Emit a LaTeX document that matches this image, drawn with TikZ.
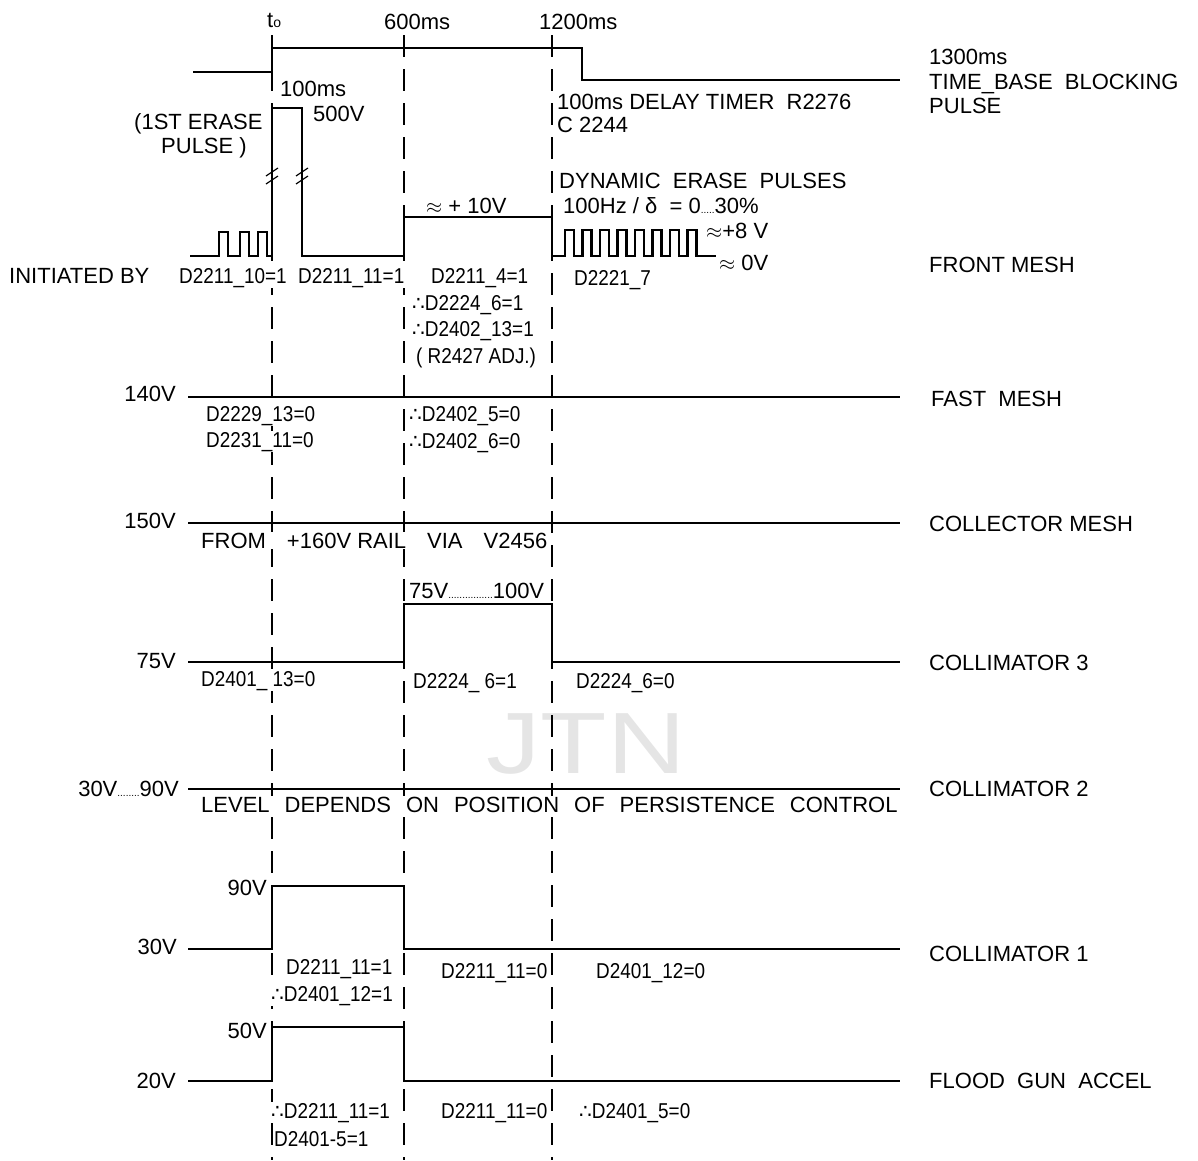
\documentclass[tikz,border=0pt]{standalone}
\usepackage{fontspec}
\setmainfont{Liberation Sans}
\newfontfamily\narrowfont[FakeStretch=0.88]{Liberation Sans}
\newfontfamily\wmfont[FakeStretch=1.25]{Liberation Sans}
\newfontfamily\symbfont{DejaVu Sans}
\usepackage{tikz}
\usetikzlibrary{positioning}

\newcommand{\tfore}{{\symbfont\fontsize{20}{20}\selectfont ∴}}
\newcommand{\smalldots}[1]{{\fontsize{10}{10}\selectfont #1}}
\newcommand{\wsp}{\hspace*{15pt}}

\begin{document}
\begin{tikzpicture}[x=1pt, y=-1pt,
      sig/.style={line width=2.2pt},
      tline/.style={line width=1.1pt, dash pattern=on 22pt off 12pt},
      brk/.style={line width=1.2pt},
      txt/.style={font=\fontsize{22}{24}\selectfont, inner sep=1pt, anchor=base west, fill=white},
      dlbl/.style={txt, font=\narrowfont\fontsize{21.5}{24}\selectfont},
      volt/.style={txt, anchor=base east},
      wmark/.style={font=\wmfont\fontsize{87}{87}\selectfont, text=black!10, inner sep=0pt, anchor=base west}]

    \useasboundingbox (0,0) rectangle (1198,1160);
    \def\tz{272}
    \def\tsix{404}
    \def\ttw{552}
    \def\xl{188}
    \def\xr{900}

    \node[wmark] (jtn) at (486,773) {JTN};

    % ============================================
    % time marks
    % ============================================
    \node[txt] (tzero) at (266,27) {t{\fontsize{14}{14}\selectfont o}};
    \node[txt] (tsixh) at (383,29) {600ms};
    \node[txt] (ttwelve) at (538,29) {1200ms};

    \foreach \x/\n in {\tz/a, \tsix/b, \ttw/c} {
        \coordinate (top\n) at (\x,35);
        \coordinate (bot\n) at (\x,1160);
        \draw[tline] (top\n) -- (bot\n);
    }

    % ============================================
    % time base blocking pulse
    % ============================================
    \draw[sig] (193,72) -- (\tz,72) -- (\tz,48) -- (582,48) -- (582,80) -- (\xr,80);
    \node[txt] (tbms) at (928,64) {1300ms};
    \node[txt] (tbname) at (928,89) {TIME\_BASE\ \ BLOCKING};
    \node[txt] (tbpulse) at (928,113) {PULSE};
    \node[txt] (hundred) at (279,96) {100ms};
    \node[txt] (delay) at (556,109) {100ms DELAY TIMER\ \ R2276};
    \node[txt] (cap) at (556,132) {C 2244};

    % ============================================
    % front mesh
    % ============================================
    \def\yy{256}
    \draw[sig] (190,\yy)
        \foreach \x in {219,240,258} { -- (\x,\yy) -- (\x,232) -- (\x+9,232) -- (\x+9,\yy) }
        -- (\tz,\yy) -- (\tz,108) -- (302,108) -- (302,\yy) -- (\tsix,\yy) -- (\tsix,217)
        -- (\ttw,217) -- (\ttw,\yy)
        \foreach \k in {0,...,7} { -- ({565+17.5*\k},\yy) -- ++(0,-26) -- ++(9,0) -- ++(0,26) }
        -- (716,\yy);
    % break marks on the erase pulse
    \foreach \x in {\tz,302} {
        \draw[brk] (\x-6,176) -- (\x+6,168);
        \draw[brk] (\x-6,184) -- (\x+6,176);
    }

    \node[txt] (erase1) at (133,129) {(1ST ERASE};
    \node[txt] (erase2) at (160,153) {PULSE )};
    \node[txt] (fivehv) at (312,121) {500V};
    \node[txt] (tenv) at (425,213) {$\approx$ + 10V};
    \node[txt] (dyn) at (558,188) {DYNAMIC\ \ ERASE\ \ PULSES};
    \node[txt] (freq) at (562,213) {100Hz / δ\ \ = 0\smalldots{.....}30\%};
    \node[txt, fill=none] (eightv) at (705,238) {$\approx$+8 V};
    \node[txt, fill=none] (zerov) at (718,270) {$\approx$ 0V};
    \node[txt] (fmname) at (928,272) {FRONT MESH};

    \node[txt] (init) at (8,283) {INITIATED BY};
    \node[dlbl] (fma) at (178,283) {D2211\_10=1};
    \node[dlbl] (fmb) at (297,283) {D2211\_11=1};
    \node[dlbl] (fmc) at (430,283) {D2211\_4=1};
    \node[dlbl] (fmd) at (411,310) {\tfore D2224\_6=1};
    \node[dlbl] (fme) at (411,336) {\tfore D2402\_13=1};
    \node[dlbl] (fmf) at (415,363) {( R2427 ADJ.)};
    \node[dlbl] (fmg) at (573,285) {D2221\_7};

    % ============================================
    % fast mesh
    % ============================================
    \def\yy{397}
    \draw[sig] (\xl,\yy) -- (\xr,\yy);
    \node[volt] (fvolt) at (177,\yy+4) {140V};
    \node[txt] (fname) at (930,\yy+9) {FAST\ \ MESH};
    \node[dlbl] (fa) at (205,\yy+24) {D2229\_13=0};
    \node[dlbl] (fb) at (205,\yy+50) {D2231\_11=0};
    \node[dlbl] (fc) at (408,\yy+24) {\tfore D2402\_5=0};
    \node[dlbl] (fd) at (408,\yy+51) {\tfore D2402\_6=0};

    % ============================================
    % collector mesh
    % ============================================
    \def\yy{523}
    \draw[sig] (\xl,\yy) -- (\xr,\yy);
    \node[volt] (cvolt) at (177,\yy+5) {150V};
    \node[txt] (cname) at (928,\yy+8) {COLLECTOR MESH};
    \node[txt] (crail) at (200,\yy+25) {FROM\wsp\hspace*{6pt}+160V RAIL\wsp\hspace*{6pt}VIA\wsp\hspace*{6pt}V2456};

    % ============================================
    % collimator 3
    % ============================================
    \def\yy{662}
    \draw[sig] (\xl,\yy) -- (\tsix,\yy) -- (\tsix,604) -- (\ttw,604) -- (\ttw,\yy) -- (\xr,\yy);
    \node[volt] (c3volt) at (177,\yy+6) {75V};
    \node[txt] (c3range) at (408,598) {75V\smalldots{................}100V};
    \node[txt] (c3name) at (928,\yy+8) {COLLIMATOR 3};
    \node[dlbl] (c3a) at (200,\yy+24) {D2401\_ 13=0};
    \node[dlbl] (c3b) at (412,\yy+26) {D2224\_ 6=1};
    \node[dlbl] (c3c) at (575,\yy+26) {D2224\_6=0};

    % ============================================
    % collimator 2
    % ============================================
    \def\yy{789}
    \draw[sig] (\xl,\yy) -- (\xr,\yy);
    \node[volt] (c2volt) at (180,\yy+7) {30V\smalldots{........}90V};
    \node[txt] (c2name) at (928,\yy+7) {COLLIMATOR 2};
    \node[txt] (c2level) at (200,\yy+23) {LEVEL\wsp DEPENDS\wsp ON\wsp POSITION\wsp OF\wsp PERSISTENCE\wsp CONTROL};

    % ============================================
    % collimator 1
    % ============================================
    \def\yy{949}
    \draw[sig] (\xl,\yy) -- (\tz,\yy) -- (\tz,886) -- (\tsix,886) -- (\tsix,\yy) -- (\xr,\yy);
    \node[volt] (c1hi) at (268,895) {90V};
    \node[volt] (c1lo) at (178,\yy+5) {30V};
    \node[txt] (c1name) at (928,\yy+12) {COLLIMATOR 1};
    \node[dlbl] (c1a) at (285,\yy+25) {D2211\_11=1};
    \node[dlbl] (c1b) at (270,\yy+52) {\tfore D2401\_12=1};
    \node[dlbl] (c1c) at (440,\yy+29) {D2211\_11=0};
    \node[dlbl] (c1d) at (595,\yy+29) {D2401\_12=0};

    % ============================================
    % flood gun accel
    % ============================================
    \def\yy{1081}
    \draw[sig] (\xl,\yy) -- (\tz,\yy) -- (\tz,1027) -- (\tsix,1027) -- (\tsix,\yy) -- (\xr,\yy);
    \node[volt] (fghi) at (268,1038) {50V};
    \node[volt] (fglo) at (177,\yy+7) {20V};
    \node[txt] (fgname) at (928,\yy+7) {FLOOD\ \ GUN\ \ ACCEL};
    \node[dlbl] (fga) at (270,\yy+37) {\tfore D2211\_11=1};
    \node[dlbl] (fgb) at (273,\yy+65) {D2401-5=1};
    \node[dlbl] (fgc) at (440,\yy+37) {D2211\_11=0};
    \node[dlbl] (fgd) at (578,\yy+37) {\tfore D2401\_5=0};

\end{tikzpicture}
\end{document}
